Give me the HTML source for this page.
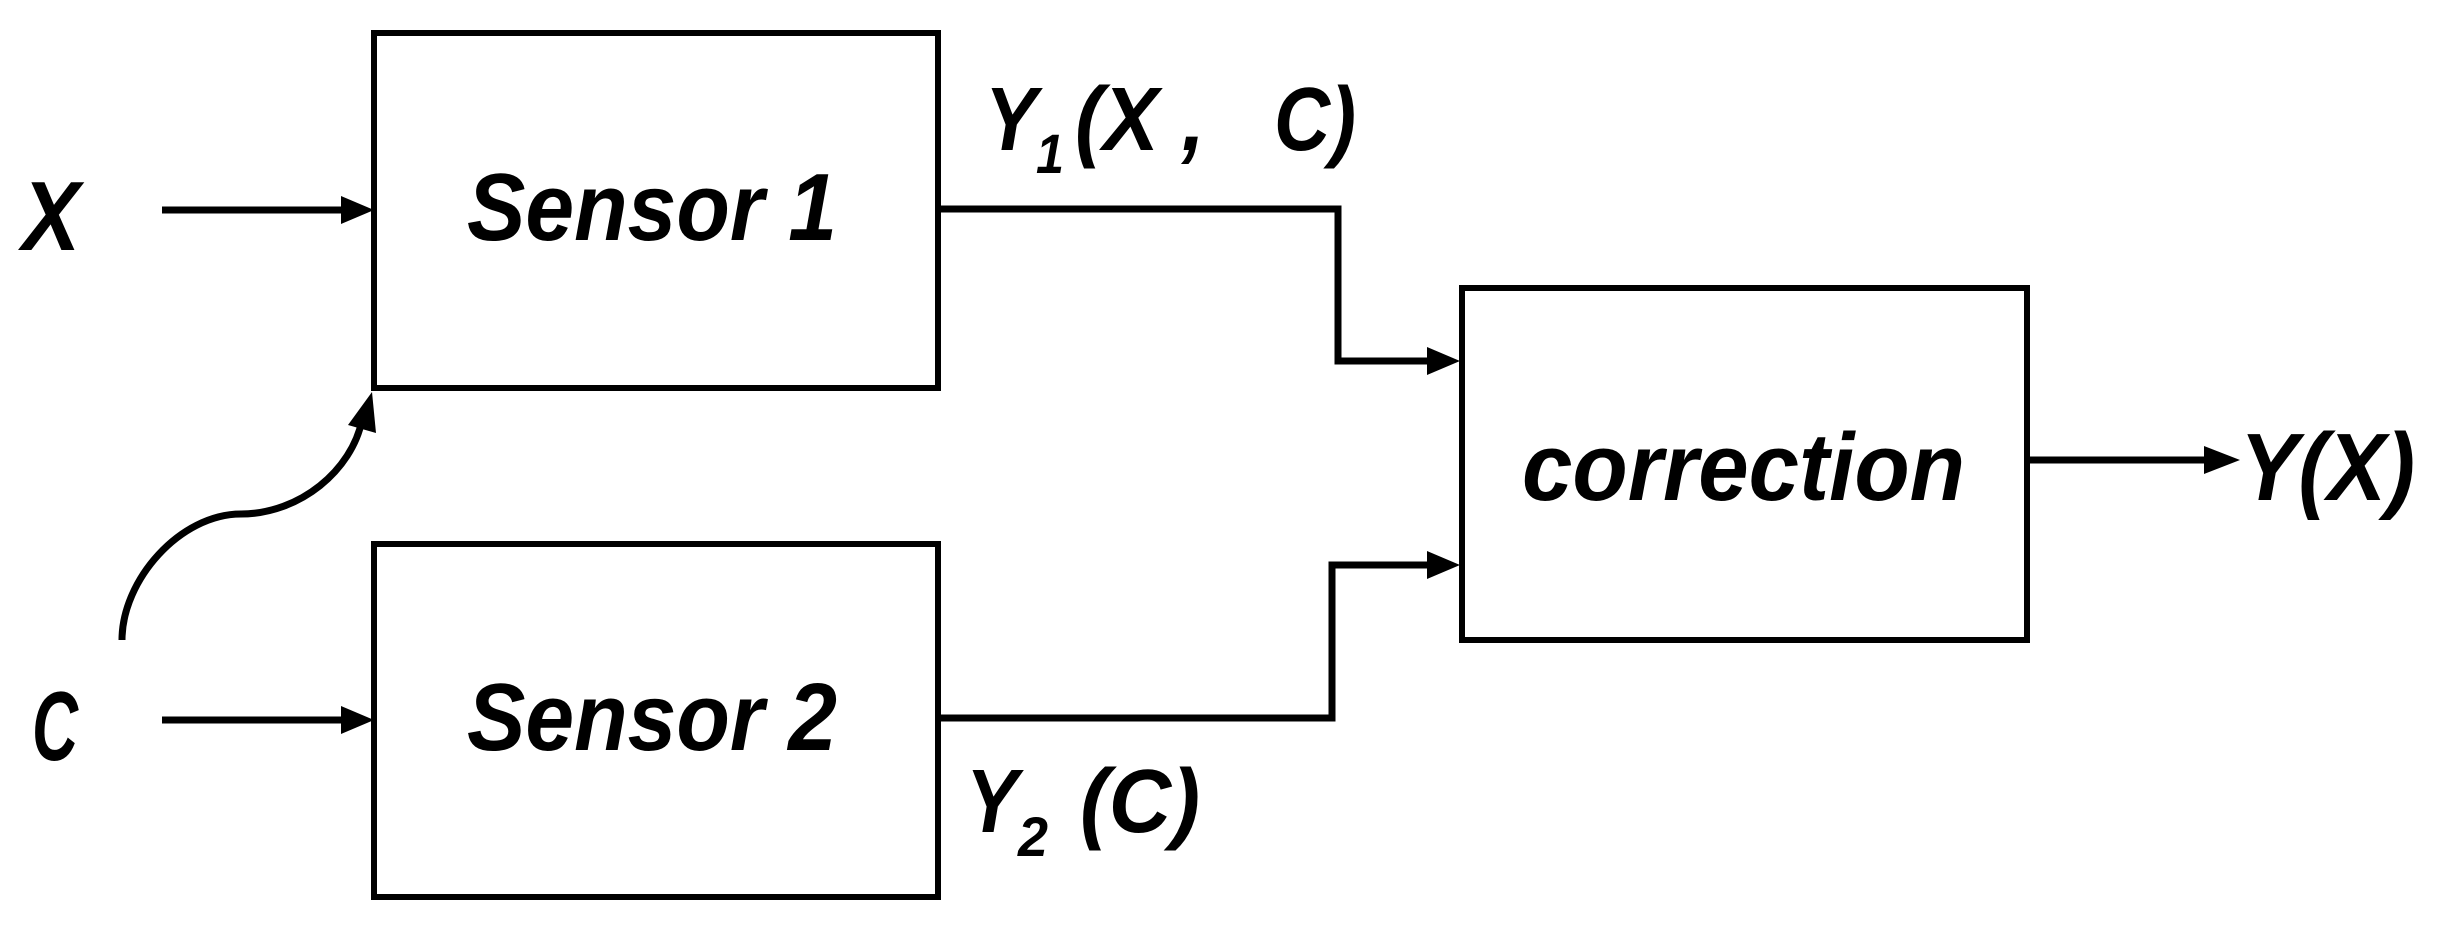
<!DOCTYPE html>
<html><head><meta charset="utf-8"><style>
html,body{margin:0;padding:0;background:#fff;}
svg{display:block;}
text{font-family:"Liberation Sans",sans-serif;font-weight:bold;font-style:italic;fill:#000;}
</style></head><body>
<svg width="2443" height="932" viewBox="0 0 2443 932" xmlns="http://www.w3.org/2000/svg">
<g fill="none" stroke="#000" stroke-width="6">
<rect x="374" y="33" width="564" height="355"/>
<rect x="374" y="544" width="564" height="353"/>
<rect x="1462" y="288" width="565" height="352"/>
</g>
<g fill="none" stroke="#000" stroke-width="7">
<line x1="162" y1="210" x2="345" y2="210"/>
<line x1="162" y1="720" x2="345" y2="720"/>
<polyline points="938,209 1338,209 1338,361 1430,361"/>
<polyline points="938,718 1332,718 1332,565 1430,565"/>
<line x1="2027" y1="460" x2="2208" y2="460"/>
<path d="M122,640 C122,580 180,514 241,514 C300,514 352,470 362,420"/>
</g>
<g fill="#000">
<polygon points="341,196 374,210 341,224"/>
<polygon points="341,706 374,720 341,734"/>
<polygon points="1427,347 1460,361 1427,375"/>
<polygon points="1427,551 1460,565 1427,579"/>
<polygon points="2204,446 2240,460 2204,474"/>
<polygon points="348,425 372,392 376,433"/>
</g>
<text x="22" y="250" font-size="98" textLength="58" lengthAdjust="spacingAndGlyphs">X</text>
<text x="32" y="760" font-size="98" textLength="46" lengthAdjust="spacingAndGlyphs">C</text>
<text x="467" y="240" font-size="96" textLength="370" lengthAdjust="spacingAndGlyphs">Sensor 1</text>
<text x="467" y="750" font-size="96" textLength="370" lengthAdjust="spacingAndGlyphs">Sensor 2</text>
<text x="1522" y="500" font-size="96" textLength="443" lengthAdjust="spacingAndGlyphs">correction</text>
<text x="985" y="150" font-size="90" textLength="52" lengthAdjust="spacingAndGlyphs">Y</text>
<text x="1036" y="173" font-size="56" textLength="28" lengthAdjust="spacingAndGlyphs">1</text>
<text x="1075" y="150" font-size="90" textLength="130" lengthAdjust="spacingAndGlyphs">(X ,</text>
<text x="1274" y="150" font-size="90" textLength="82" lengthAdjust="spacingAndGlyphs">C)</text>
<text x="966" y="832" font-size="90" textLength="52" lengthAdjust="spacingAndGlyphs">Y</text>
<text x="1018" y="856" font-size="56" textLength="30" lengthAdjust="spacingAndGlyphs">2</text>
<text x="1080" y="832" font-size="90" textLength="120" lengthAdjust="spacingAndGlyphs">(C)</text>
<text x="2240" y="500" font-size="96" textLength="175" lengthAdjust="spacingAndGlyphs">Y(X)</text>
</svg>
</body></html>
